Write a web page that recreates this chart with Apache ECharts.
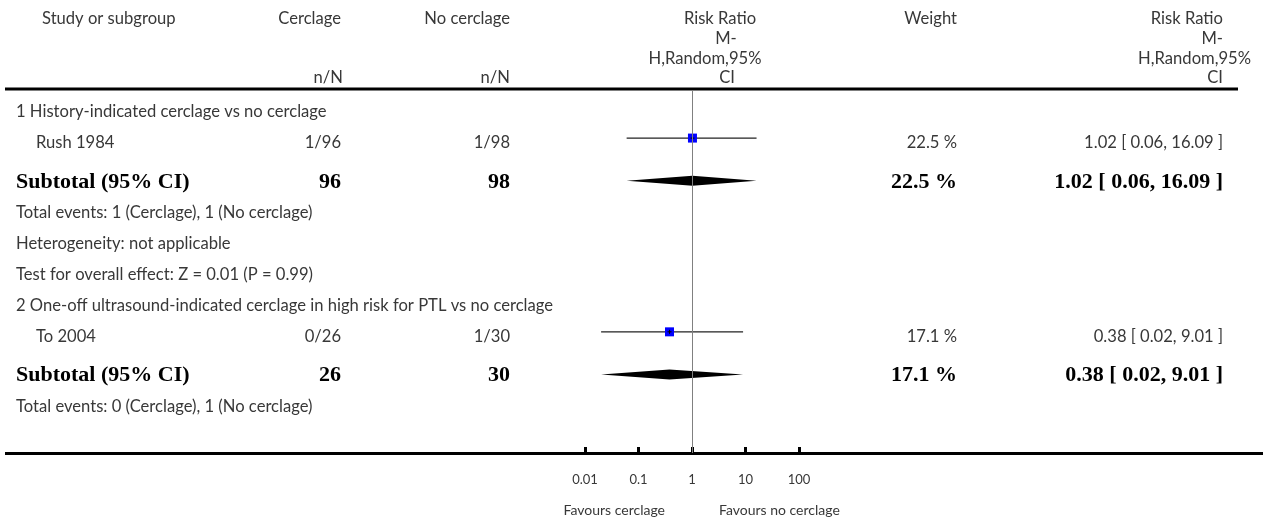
<!DOCTYPE html>
<html>
<head>
<meta charset="utf-8">
<script src="https://cdn.jsdelivr.net/npm/echarts@6/dist/echarts.min.js"></script>
<style>
  html, body { margin: 0; padding: 0; background: #fff; }
  #chart { width: 1263px; height: 520px; }
</style>
</head>
<body>
<div id="chart"></div>
<script>
// ---- table rows (one entry per row) ----
const rowText = [
  '1 History-indicated cerclage vs no cerclage',
  'Rush 1984',
  'Subtotal (95% CI)',
  'Total events: 1 (Cerclage), 1 (No cerclage)',
  'Heterogeneity: not applicable',
  'Test for overall effect: Z = 0.01 (P = 0.99)',
  '2 One-off ultrasound-indicated cerclage in high risk for PTL vs no cerclage',
  'To 2004',
  'Subtotal (95% CI)',
  'Total events: 0 (Cerclage), 1 (No cerclage)'
];
const rowKind = ['group', 'study', 'subtotal', 'note', 'note', 'note', 'group', 'study', 'subtotal', 'note'];
const cerclageCol   = ['', '1/96', '96', '', '', '', '', '0/26', '26', ''];
const noCerclageCol = ['', '1/98', '98', '', '', '', '', '1/30', '30', ''];
const weightPct  = [null, 22.5, 22.5, null, null, null, null, 17.1, 17.1, null];
const riskRatio  = [null, 1.02, 1.02, null, null, null, null, 0.38, 0.38, null];
const ciLow      = [null, 0.06, 0.06, null, null, null, null, 0.02, 0.02, null];
const ciHigh     = [null, 16.09, 16.09, null, null, null, null, 9.01, 9.01, null];

// ---- axis and header text ----
const xTicks = [0.01, 0.1, 1, 10, 100];
const favourLabels = ['Favours cerclage', 'Favours no cerclage'];
const headStudy = 'Study or subgroup';
const headGroups = ['Cerclage', 'No cerclage'];
const headUnit = 'n/N';
const headRR = ['Risk Ratio', 'M-', 'H,Random,95%', 'CI'];
const headWeight = 'Weight';

// ---- layout ----
const SANS = 'Lato, "Open Sans", sans-serif';
const SERIF = '"Liberation Serif", "DejaVu Serif", serif';
const TEXT = '#383838';
const SIZE_SANS = 16.6;
const SIZE_BOLD = 22;
const COL = { label: 16, study: 36, cerclage: 341, noCerclage: 510, weight: 957, rr: 1223 };
const SUBTOTAL_GAP = 0.25;

const rowPos = [];
let shift = 0;
rowKind.forEach((k, i) => {
  if (k === 'subtotal') shift += SUBTOTAL_GAP;
  rowPos.push(i + shift);
});

const fmt2 = v => v.toFixed(2);
const rrText = i => riskRatio[i] == null ? '' :
  fmt2(riskRatio[i]) + ' [ ' + fmt2(ciLow[i]) + ', ' + fmt2(ciHigh[i]) + ' ]';
const wText = i => weightPct[i] == null ? '' : weightPct[i].toFixed(1) + ' %';

function txt(x, y, s, align, bold, size) {
  return {
    type: 'text',
    style: {
      x: x, y: y, text: s,
      align: align, verticalAlign: 'middle',
      textAlign: align, textVerticalAlign: 'middle',
      fill: bold ? '#000' : TEXT,
      fontFamily: bold ? SERIF : SANS,
      fontWeight: bold ? 'bold' : 'normal',
      fontSize: size || (bold ? SIZE_BOLD : SIZE_SANS)
    }
  };
}

const tableData = rowText.map((t, i) => [i, rowPos[i]]);
const markData = [];
rowKind.forEach((k, i) => {
  if (k === 'study' || k === 'subtotal') {
    markData.push([riskRatio[i], rowPos[i], ciLow[i], ciHigh[i], k === 'study' ? 0 : 1]);
  }
});

const chart = echarts.init(document.getElementById('chart'), null, { renderer: 'canvas' });

const headerGraphics = [
  txt(42, 19, headStudy, 'left'),
  txt(COL.cerclage, 19, headGroups[0], 'right'),
  txt(COL.noCerclage, 19, headGroups[1], 'right'),
  txt(COL.cerclage + 2, 78, headUnit, 'right'),
  txt(COL.noCerclage, 78, headUnit, 'right'),
  txt(720, 19, headRR[0], 'center'),
  txt(726, 39, headRR[1], 'center'),
  txt(705, 59, headRR[2], 'center'),
  txt(727, 78, headRR[3], 'center'),
  txt(COL.weight, 19, headWeight, 'right'),
  txt(COL.rr, 19, headRR[0], 'right'),
  txt(COL.rr, 39, headRR[1], 'right'),
  txt(COL.rr + 28, 59, headRR[2], 'right'),
  txt(COL.rr, 78, headRR[3], 'right'),
  { type: 'line', shape: { x1: 5, y1: 89, x2: 1238, y2: 89 }, style: { stroke: '#000', lineWidth: 3 } },
  { type: 'line', shape: { x1: 5, y1: 453.5, x2: 1263, y2: 453.5 }, style: { stroke: '#000', lineWidth: 3 } },
  txt(665, 510, favourLabels[0], 'right', false, 14),
  txt(719, 510, favourLabels[1], 'left', false, 14)
];

chart.setOption({
  animation: false,
  backgroundColor: '#fff',
  grid: { left: 585, width: 214, top: 91, height: 362, containLabel: false },
  xAxis: {
    type: 'log', logBase: 10, min: 0.01, max: 100, interval: 1,
    position: 'bottom',
    axisLine: { show: false, onZero: false },
    axisTick: { show: true, inside: true, length: 6, lineStyle: { color: '#000', width: 3 } },
    splitLine: { show: false },
    axisLabel: {
      margin: 20, fontFamily: SANS, fontSize: 13, color: TEXT,
      formatter: v => String(Number(Number(v).toPrecision(2)))
    }
  },
  yAxis: { type: 'value', inverse: true, min: -0.68, max: 10.997, show: false },
  graphic: headerGraphics,
  series: [
    {
      type: 'custom',
      name: 'forest',
      data: markData,
      encode: { x: 0, y: 1 },
      renderItem: function (params, api) {
        const isStudy = api.value(4) === 0;
        const c = api.coord([api.value(0), api.value(1)]);
        const lo = api.coord([api.value(2), api.value(1)]);
        const hi = api.coord([api.value(3), api.value(1)]);
        if (isStudy) {
          const y = c[1] - 5;
          const s = 9;
          return {
            type: 'group',
            children: [
              { type: 'line', shape: { x1: lo[0], y1: y, x2: hi[0], y2: y }, style: { stroke: '#222', lineWidth: 1.3 } },
              { type: 'rect', shape: { x: c[0] - s / 2, y: y - s / 2, width: s, height: s }, style: { fill: '#0000ff' } },
              { type: 'line', shape: { x1: c[0] - 2, y1: y, x2: c[0] + 2, y2: y }, style: { stroke: '#000', lineWidth: 1 } },
              { type: 'line', shape: { x1: c[0], y1: y - 2, x2: c[0], y2: y + 2 }, style: { stroke: '#000', lineWidth: 1 } }
            ]
          };
        }
        const y = c[1] - 1;
        return {
          type: 'polygon',
          shape: { points: [[lo[0], y], [c[0], y - 5], [hi[0], y], [c[0], y + 5]] },
          style: { fill: '#000' }
        };
      },
      markLine: {
        silent: true,
        symbol: 'none',
        label: { show: false },
        lineStyle: { color: '#808080', width: 1, type: 'solid' },
        data: [{ xAxis: 1 }]
      },
      z: 3
    },
    {
      type: 'custom',
      name: 'table',
      data: tableData,
      encode: { y: 1 },
      renderItem: function (params, api) {
        const i = api.value(0);
        const y = api.coord([1, api.value(1)])[1];
        const k = rowKind[i];
        const bold = k === 'subtotal';
        const children = [];
        children.push(txt(k === 'study' ? COL.study : COL.label, y, rowText[i], 'left', bold));
        if (cerclageCol[i]) children.push(txt(COL.cerclage, y, cerclageCol[i], 'right', bold));
        if (noCerclageCol[i]) children.push(txt(COL.noCerclage, y, noCerclageCol[i], 'right', bold));
        if (weightPct[i] != null) children.push(txt(COL.weight, y, wText(i), 'right', bold));
        if (riskRatio[i] != null) children.push(txt(COL.rr, y, rrText(i), 'right', bold));
        return { type: 'group', children: children };
      },
      z: 2
    }
  ]
});
</script>
</body>
</html>
